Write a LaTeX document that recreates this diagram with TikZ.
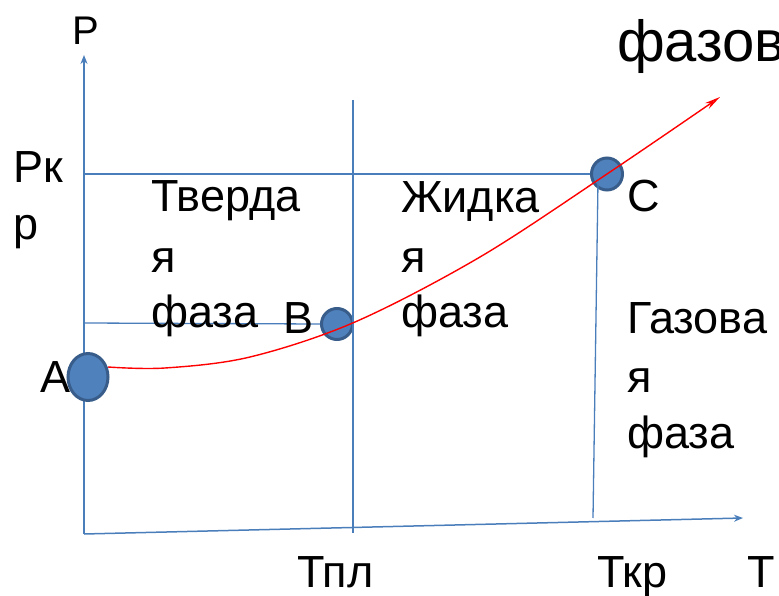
\documentclass[tikz,border=0pt]{standalone}
\usepackage{fontspec}
\setmainfont{Liberation Sans}
\usetikzlibrary{arrows.meta,shapes.geometric}
\definecolor{axblue}{HTML}{4A7EBB}
\definecolor{ptfill}{HTML}{4F81BD}
\definecolor{ptedge}{HTML}{385D8A}
\begin{document}
\begin{tikzpicture}[x=1pt,y=-1pt,
  axis/.style={draw=axblue,line width=1.5pt},
  guide/.style={draw=axblue,line width=1.3pt},
  pt/.style={ellipse,draw=ptedge,fill=ptfill,line width=3pt,inner sep=0pt},
  lbl/.style={font=\fontsize{45}{50}\selectfont,anchor=base west,inner sep=0pt},
  curve/.style={draw=red,line width=1.4pt}]
\useasboundingbox (0,0) rectangle (779,596);
% axes
\coordinate (O) at (84,534);
\coordinate (Ptip) at (84,55);
\coordinate (Ttip) at (743,518);
\draw[axis,-{Stealth[length=9pt,width=7pt]}] (O) -- (Ptip);
\draw[axis,-{Stealth[length=9pt,width=7pt]}] (O) -- (Ttip);
% points
\node[pt,minimum width=40pt,minimum height=47pt] (A) at (88,377) {};
\node[pt,minimum width=31pt,minimum height=31pt] (B) at (337,324) {};
\node[pt,minimum width=31pt,minimum height=32pt] (C) at (607,174) {};
% guide lines
\coordinate (Pkr) at (84,174);
\coordinate (PB) at (84,323);
\coordinate (Tpltop) at (353,100);
\coordinate (Tplbot) at (353,533);
\coordinate (Tkrtop) at (598,182);
\coordinate (Tkrbot) at (593,518);
\draw[guide] (Pkr) -- (C.west);
\draw[guide] (PB) -- (B.west);
\draw[guide] (Tpltop) -- (Tplbot);
\draw[guide] (Tkrtop) -- (Tkrbot);
% red curve
\draw[curve,-{Stealth[length=16pt,width=7pt,open]}] plot[smooth,tension=0.55] coordinates
  {(108,367) (165,368) (250,357) (355,322) (480,257) (607,174) (720,97)};
% labels
\node[lbl,font=\fontsize{40}{48}\selectfont] (lP) at (72,45) {P};
\node[lbl] (lPk1) at (13,183) {Рк};
\node[lbl] (lPk2) at (13,240) {р};
\node[lbl] (s1) at (151,212) {Тверда};
\node[lbl] (s2) at (151,272) {я};
\node[lbl] (s3) at (151,327) {фаза};
\node[lbl] (l1) at (401,213) {Жидка};
\node[lbl] (l2) at (401,272) {я};
\node[lbl] (l3) at (401,327) {фаза};
\node[lbl] (lC) at (627,212) {C};
\node[lbl] (g1) at (627,333) {Газова};
\node[lbl] (g2) at (627,392) {я};
\node[lbl] (g3) at (627,448) {фаза};
\node[lbl] (lA) at (40,392) {A};
\node[lbl] (lB) at (283,333) {B};
\node[lbl] (lTpl) at (297,587) {Тпл};
\node[lbl] (lTkr) at (597,587) {Ткр};
\node[lbl] (lT) at (747,587) {T};
\node[lbl,font=\fontsize{58}{66}\selectfont] (title) at (617,62) {фазов};
\end{tikzpicture}
\end{document}
